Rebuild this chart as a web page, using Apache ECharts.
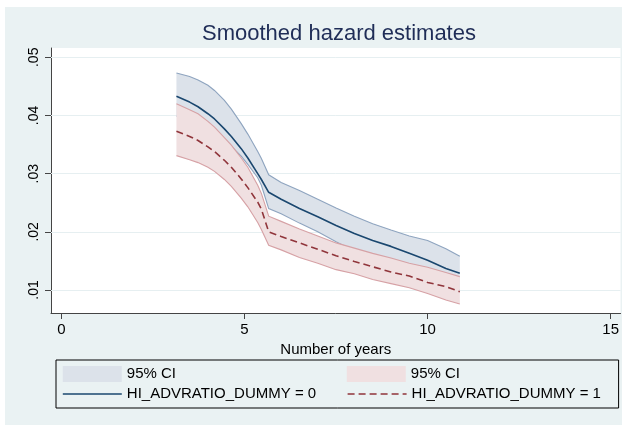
<!DOCTYPE html>
<html><head><meta charset="utf-8">
<script src="https://cdn.jsdelivr.net/npm/echarts@6/dist/echarts.min.js"></script>
<style>
html,body{margin:0;padding:0;background:#fff;width:622px;height:425px;overflow:hidden}
#c{position:absolute;left:5px;top:7px;width:617px;height:418px}
</style>
</head><body><div id="c"></div>
<script>
// ---- data ----
const years   = [3.14, 3.5, 3.73, 4.0, 4.18, 4.45, 4.64, 4.91, 5.09, 5.36, 5.46, 5.66, 6.0, 6.5, 7.0, 7.5, 8.0, 8.5, 9.0, 9.5, 10.0, 10.5, 10.88];
const hazard0 = [.0433,.0423,.0415,.0403,.0394,.0377,.0364,.0343,.0327,.0300,.0290,.0268,.0256,.0240,.0226,.0211,.0197,.0185,.0175,.0163,.0151,.0137,.0129];
const upper0  = [.0473,.0467,.0461,.0452,.0443,.0426,.0411,.0386,.0368,.0338,.0326,.0298,.0285,.0271,.0256,.0241,.0227,.0214,.0203,.0193,.0185,.0171,.0158];
const lower0  = [.0399,.0392,.0386,.0377,.0370,.0358,.0347,.0330,.0316,.0293,.0280,.0240,.0231,.0215,.0200,.0183,.0167,.0156,.0147,.0133,.0119,.0106,.0100];
const hazard1 = [.0373,.0364,.0357,.0346,.0338,.0323,.0311,.0291,.0276,.0251,.0239,.0200,.0192,.0181,.0170,.0159,.0149,.0140,.0131,.0124,.0113,.0106,.0097];
const upper1  = [.0420,.0410,.0403,.0390,.0380,.0362,.0349,.0327,.0311,.0280,.0266,.0227,.0218,.0205,.0193,.0181,.0172,.0163,.0155,.0146,.0139,.0130,.0123];
const lower1  = [.0331,.0324,.0319,.0311,.0304,.0290,.0278,.0258,.0243,.0216,.0204,.0177,.0169,.0156,.0146,.0135,.0128,.0118,.0111,.0104,.0094,.0083,.0076];
const xTicks  = [0, 5, 10, 15];
const yTicks  = [0.01, 0.02, 0.03, 0.04, 0.05];
const LABELS  = {ci0: '95% CI', ci1: '95% CI', m0: 'HI_ADVRATIO_DUMMY = 0', m1: 'HI_ADVRATIO_DUMMY = 1'};
const TITLE   = 'Smoothed hazard estimates';
const XNAME   = 'Number of years';

// ---- styles ----
const FONT = "'Liberation Sans', Arial, Helvetica, sans-serif";
const NAVY = '#1a476f', MAROON = '#90353b';
const BLUE_FILL = '#dce2ea', BLUE_EDGE = '#8ea4bf';
const RED_FILL = '#f0e0e1', RED_EDGE = '#d6a1a5';
const BG = '#eaf2f3', GRIDC = '#e6eff1', AXC = '#444';

function band(name, lower, upper, fill, edge) {
  return {
    type: 'custom', name: name, silent: true,
    itemStyle: {color: fill},
    dimensions: ['x', 'lo', 'hi'],
    encode: {x: 0, y: [1, 2]},
    data: years.map((x, i) => [x, lower[i], upper[i]]),
    renderItem: function (params, api) {
      if (params.dataIndex !== 0) return null;
      const up = years.map((x, i) => api.coord([x, upper[i]]));
      const lo = years.map((x, i) => api.coord([x, lower[i]]));
      return {
        type: 'group',
        children: [
          {type: 'polygon', shape: {points: up.concat(lo.slice().reverse())}, style: {fill: fill, stroke: null}},
          {type: 'polyline', shape: {points: up}, style: {stroke: edge, lineWidth: 1.1, fill: null}},
          {type: 'polyline', shape: {points: lo}, style: {stroke: edge, lineWidth: 1.1, fill: null}}
        ]
      };
    }
  };
}

const chart = echarts.init(document.getElementById('c'), null, {renderer: 'canvas'});
chart.setOption({
  animation: false,
  backgroundColor: BG,
  textStyle: {fontFamily: FONT},
  title: {
    text: TITLE, left: 334, top: 16, padding: 0, textAlign: 'center',
    textStyle: {fontSize: 22, fontWeight: 'normal', color: '#1f2d57', fontFamily: FONT}
  },
  grid: {left: 46, right: 0, top: 41, bottom: 112, show: true, backgroundColor: '#fff', borderWidth: 0},
  xAxis: {
    type: 'value', min: -0.286, max: 15.27,
    name: XNAME, nameLocation: 'middle', nameGap: 22,
    nameTextStyle: {fontSize: 15, color: '#000', fontFamily: FONT},
    axisLine: {show: true, onZero: false, lineStyle: {color: AXC, width: 1}},
    axisTick: {show: true, length: 6, customValues: xTicks, lineStyle: {color: AXC}},
    axisLabel: {customValues: xTicks, fontSize: 15, color: '#000', margin: 9, fontFamily: FONT,
      formatter: v => String(v)},
    splitLine: {show: false}
  },
  yAxis: {
    type: 'value', min: 0.00605, max: 0.0516,
    axisLine: {show: true, onZero: false, lineStyle: {color: AXC, width: 1}},
    axisTick: {show: true, length: 6, customValues: yTicks, lineStyle: {color: AXC}},
    axisLabel: {customValues: yTicks, rotate: 90, fontSize: 14, color: '#000', margin: 10, fontFamily: FONT,
      formatter: v => String(v).replace(/^0\./, '.')},
    splitLine: {show: false}
  },
  legend: {
    left: 51, top: 353, orient: 'horizontal', width: 575,
    padding: 6, itemGap: 4, itemWidth: 59, itemHeight: 16,
    borderColor: '#000', borderWidth: 1, borderRadius: 0,
    backgroundColor: 'rgba(0,0,0,0)',
    selectedMode: false,
    formatter: n => LABELS[n],
    textStyle: {fontSize: 15, color: '#000', lineHeight: 16, fontFamily: FONT},
    data: [
      {name: 'ci0', icon: 'rect', itemStyle: {color: BLUE_FILL, borderWidth: 0}, textStyle: {width: 216}},
      {name: 'ci1', icon: 'rect', itemStyle: {color: RED_FILL, borderWidth: 0}, textStyle: {width: 201}},
      {name: 'm0', itemStyle: {opacity: 0}, lineStyle: {width: 1.6}, textStyle: {width: 216}},
      {name: 'm1', itemStyle: {opacity: 0}, lineStyle: {width: 1.6}, textStyle: {width: 201}}
    ]
  },
  tooltip: {show: false},
  series: [
    {
      type: 'line', name: 'gridlines', data: [], silent: true,
      markLine: {
        silent: true, z: 1, symbol: ['none', 'none'], label: {show: false},
        lineStyle: {color: GRIDC, type: 'solid', width: 1},
        emphasis: {disabled: true},
        data: yTicks.map(v => ({yAxis: v}))
      }
    },
    band('ci0', lower0, upper0, BLUE_FILL, BLUE_EDGE),
    band('ci1', lower1, upper1, RED_FILL, RED_EDGE),
    {
      type: 'line', name: 'm0', symbol: 'none', showSymbol: false, silent: true,
      data: years.map((x, i) => [x, hazard0[i]]),
      itemStyle: {color: NAVY},
      lineStyle: {color: NAVY, width: 1.6}
    },
    {
      type: 'line', name: 'm1', symbol: 'none', showSymbol: false, silent: true,
      data: years.map((x, i) => [x, hazard1[i]]),
      itemStyle: {color: MAROON},
      lineStyle: {color: MAROON, width: 1.6, type: [7, 4]}
    }
  ]
});
</script>
</body></html>
